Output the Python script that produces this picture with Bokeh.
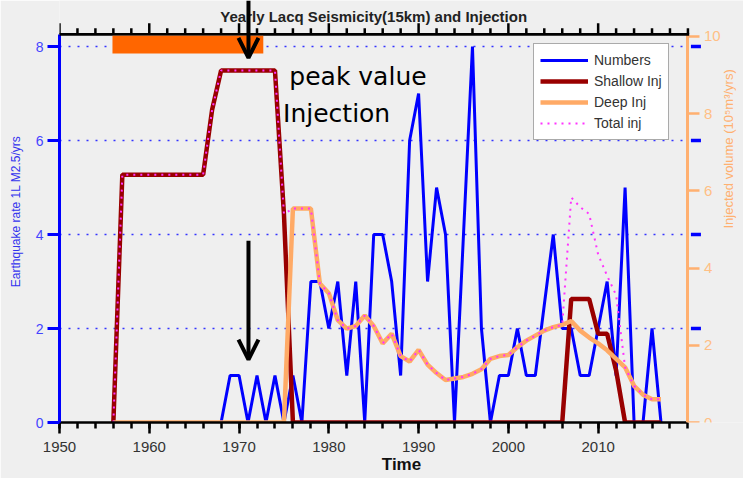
import math
from bokeh.plotting import figure
from bokeh.models import (Range1d, LinearAxis, FixedTicker, Legend, LegendItem,
                          Arrow, OpenHead, BoxAnnotation, Label)
from bokeh.embed import file_html
from bokeh.resources import INLINE

# ---------------- data ----------------
years_num = list(range(1968, 2018))
numbers = [0, 1, 1, 0, 1, 0, 1, 0, 1, 0,          # 1968-1977
           3, 3, 2, 3, 1, 3, 0, 4, 4, 3,          # 1978-1987
           1, 6, 7, 3, 5, 4, 0, 4, 8, 2,          # 1988-1997
           0, 1, 1, 2, 1, 1, 2.5, 4, 2, 2,        # 1998-2007
           1, 1, 2, 3, 1, 5, 0, 0, 2, 0]          # 2008-2017

years_inj = list(range(1956, 2018))
shallow = [0, 6.42, 6.42, 6.42, 6.42, 6.42, 6.42, 6.42, 6.42, 6.42,   # 1956-1965
           6.42, 8.1, 9.12, 9.12, 9.12, 9.12, 9.12, 9.12, 9.12, 5.4,  # 1966-1975
           0, 0, 0, 0, 0, 0, 0, 0, 0, 0,                              # 1976-1985
           0, 0, 0, 0, 0, 0, 0, 0, 0, 0,                              # 1986-1995
           0, 0, 0, 0, 0, 0, 0, 0, 0, 0,                              # 1996-2005
           0, 3.2, 3.2, 3.2, 2.3, 2.3, 1.35, 0, 0, 0,                 # 2006-2015
           0, 0]                                                      # 2016-2017
deep = [0, 0, 0, 0, 0, 0, 0, 0, 0, 0,                                 # 1956-1965
        0, 0, 0, 0, 0, 0, 0, 0, 0, 0,                                 # 1966-1975
        5.54, 5.54, 5.54, 3.6, 3.35, 2.65, 2.43, 2.5, 2.77, 2.5,      # 1976-1985
        2.05, 2.3, 1.72, 1.58, 1.88, 1.5, 1.28, 1.1, 1.14, 1.18,      # 1986-1995
        1.26, 1.38, 1.65, 1.72, 1.75, 1.95, 2.12, 2.25, 2.38, 2.47,   # 1996-2005
        2.53, 2.63, 2.38, 2.2, 2.05, 1.87, 1.65, 1.43, 0.95, 0.72,    # 2006-2015
        0.6, 0.6]                                                     # 2016-2017
total = [0, 6.42, 6.42, 6.42, 6.42, 6.42, 6.42, 6.42, 6.42, 6.42,    # 1956-1965
         6.42, 8.1, 9.12, 9.12, 9.12, 9.12, 9.12, 9.12, 9.12, 5.4,   # 1966-1975
         5.54, 5.54, 5.54, 3.6, 3.35, 2.65, 2.43, 2.5, 2.77, 2.5,    # 1976-1985
         2.05, 2.3, 1.72, 1.58, 1.88, 1.5, 1.28, 1.1, 1.14, 1.18,    # 1986-1995
         1.26, 1.38, 1.65, 1.72, 1.75, 1.95, 2.12, 2.25, 2.38, 2.47, # 1996-2005
         2.53, 5.83, 5.58, 5.4, 4.35, 3.8, 3.3, 1.43, 0.95, 0.72,    # 2006-2015
         0.6, 0.6]                                                   # 2016-2017

x_major = [1950, 1960, 1970, 1980, 1990, 2000, 2010]
x_minor = list(range(1950, 2021, 2))
left_ticks = [0, 2, 4, 6, 8]
grid_ticks = [2, 4, 6, 8]
right_ticks = [0, 2, 4, 6, 8, 10]

title_text = "Yearly Lacq Seismicity(15km) and Injection"
bg = "#efefef"
blue = "#0000ff"

# axis extents (data units) and frame extents
X0, X1 = 1950, 2020          # drawn x axis
XF = 2026.19                 # frame reaches the right edge of the page
YL_TOP = 8.26                # left axis top (= top axis line)
YR_TOP = 10.05               # right axis top
YL_F = 8.98                  # frame top, left scale
YR_F = 10.93                 # frame top, right scale
PX_Y = 47.0                  # pixels per unit, left scale
PX_X = 8.978                 # pixels per year

# ---------------- figure ----------------
p = figure(width=743, height=478, output_backend="svg", toolbar_location=None,
           x_range=Range1d(X0, XF), y_range=Range1d(0, YL_F),
           x_axis_location=None, y_axis_location=None, title_location=None,
           min_border_left=59, min_border_right=0, min_border_top=0, min_border_bottom=56,
           background_fill_color=bg, border_fill_color=bg, outline_line_color=None)
p.extra_y_ranges = {"inj": Range1d(0, YR_F)}
p.xgrid.visible = False
p.ygrid.visible = False

# dotted horizontal grid
p.segment(x0=[X0] * len(grid_ticks), x1=[X1] * len(grid_ticks), y0=grid_ticks, y1=grid_ticks,
          line_color="#3333ff", line_dash="2 7", line_width=1.5)

# top axis (line + outward ticks), drawn as annotations
hw_y = 1.3 / PX_Y
hw_x = 1.25 / PX_X
p.add_layout(BoxAnnotation(left=X0 - hw_x, right=X1 + hw_x, bottom=YL_TOP - hw_y,
                           top=YL_TOP + hw_y, fill_color="black", fill_alpha=1,
                           line_color=None))
for t in x_minor:
    tick_len = (11 if t in x_major else 6) / PX_Y
    p.add_layout(BoxAnnotation(left=t - hw_x, right=t + hw_x, bottom=YL_TOP,
                               top=YL_TOP + tick_len, fill_color="black", fill_alpha=1,
                               line_color=None))

xb = LinearAxis(axis_label="Time")
xb.ticker = FixedTicker(ticks=x_major, minor_ticks=x_minor)
xb.bounds = (X0, X1)
xb.axis_line_color = "black"
xb.axis_line_width = 2.5
xb.major_tick_line_color = "black"
xb.major_tick_line_width = 2.5
xb.minor_tick_line_color = "black"
xb.minor_tick_line_width = 2.5
xb.major_tick_in = 0
xb.major_tick_out = 11
xb.minor_tick_in = 0
xb.minor_tick_out = 6
xb.major_label_text_font = "Liberation Sans"
xb.major_label_text_color = "#333333"
xb.major_label_text_font_size = "15px"
xb.major_label_standoff = 8
xb.axis_label_text_font = "Liberation Sans"
xb.axis_label_text_font_size = "17px"
xb.axis_label_text_font_style = "bold"
xb.axis_label_text_color = "#111111"
xb.axis_label_standoff = 0
p.add_layout(xb, "below")

yl = LinearAxis(axis_label="Earthquake rate 1L M2.5/yrs")
yl.ticker = FixedTicker(ticks=left_ticks, minor_ticks=[])
yl.bounds = (0, YL_TOP)
yl.axis_line_color = blue
yl.axis_line_width = 3
yl.major_tick_line_color = blue
yl.major_tick_line_width = 3
yl.major_tick_in = 0
yl.major_tick_out = 12
yl.major_label_text_font = "Liberation Sans"
yl.major_label_text_font_size = "14px"
yl.major_label_text_color = "#4444ff"
yl.major_label_standoff = 4
yl.axis_label_text_font = "Liberation Sans"
yl.axis_label_text_font_size = "12px"
yl.axis_label_text_font_style = "normal"
yl.axis_label_text_color = "#3333ee"
yl.axis_label_standoff = 10
p.add_layout(yl, "left")

orange_ax = "#ffb070"
yr = LinearAxis(y_range_name="inj", axis_label="Injected volume (10\u2075m\u00b3/yrs)",
                fixed_location=X1)
yr.ticker = FixedTicker(ticks=right_ticks, minor_ticks=[])
yr.bounds = (0, YR_TOP)
yr.axis_line_color = orange_ax
yr.axis_line_width = 3
yr.major_tick_line_color = orange_ax
yr.major_tick_line_width = 2.5
yr.major_tick_in = 0
yr.major_tick_out = 12
yr.major_label_text_font = "Liberation Sans"
yr.major_label_text_font_size = "15px"
yr.major_label_text_color = "#ffbf85"
yr.major_label_standoff = 4
yr.axis_label_text_font = "Liberation Sans"
yr.axis_label_text_font_size = "13px"
yr.axis_label_text_font_style = "normal"
yr.axis_label_text_color = "#ffb070"
yr.axis_label_standoff = 5
try:
    yr.axis_label_orientation = math.pi / 2
except Exception:
    pass
p.add_layout(yr, "right")

# blue mirror ticks of the left axis, on the right side
p.segment(x0=[X1 + 3 / PX_X] * len(grid_ticks), x1=[X1 + 13 / PX_X] * len(grid_ticks),
          y0=grid_ticks, y1=grid_ticks, line_color=blue, line_width=3.5)

# ---------------- series ----------------
r_num = p.line(years_num, numbers, line_color=blue, line_width=3)
r_sh = p.line(years_inj, shallow, line_color="#990000", line_width=4.5, y_range_name="inj")
r_dp = p.line(years_inj, deep, line_color="#ffaa66", line_width=4.5, y_range_name="inj")
r_tot = p.line(years_inj, total, line_color="#ff33ff", line_width=2, line_dash="2 5",
               y_range_name="inj")

# ---------------- annotations ----------------
p.add_layout(Label(x=(X0 + X1) / 2, y=8.64, text=title_text, text_font="Liberation Sans",
                   text_font_size="15px", text_font_style="bold", text_color="#222222",
                   text_align="center", text_baseline="alphabetic"))
p.add_layout(BoxAnnotation(left=1955.9, right=1972.7, bottom=7.85, top=YL_TOP - hw_y,
                           fill_color="#ff6600", fill_alpha=1, line_color=None))
p.add_layout(Arrow(end=OpenHead(size=20, line_width=4, line_color="black"),
                   x_start=1971.05, y_start=YL_F, x_end=1971.05, y_end=7.76,
                   line_width=4, line_color="black"))
p.add_layout(Arrow(end=OpenHead(size=20, line_width=4, line_color="black"),
                   x_start=1971.05, y_start=3.87, x_end=1971.05, y_end=1.34,
                   line_width=4, line_color="black"))
p.add_layout(Label(x=1975.6, y=7.36, text="peak value", text_font="DejaVu Sans",
                   text_font_size="25px", text_color="black", text_baseline="alphabetic"))
p.add_layout(Label(x=1974.9, y=6.57, text="Injection", text_font="DejaVu Sans",
                   text_font_size="25px", text_color="black", text_baseline="alphabetic"))

legend = Legend(items=[LegendItem(label="Numbers", renderers=[r_num]),
                       LegendItem(label="Shallow Inj", renderers=[r_sh]),
                       LegendItem(label="Deep Inj", renderers=[r_dp]),
                       LegendItem(label="Total inj", renderers=[r_tot])],
                location=(474, 282))
legend.background_fill_color = "white"
legend.background_fill_alpha = 1
legend.border_line_color = "#555555"
legend.border_line_width = 1
legend.label_text_font = "Liberation Sans"
legend.label_text_font_size = "14px"
legend.label_text_color = "#333333"
legend.glyph_width = 48
legend.glyph_height = 20
legend.label_height = 20
legend.label_standoff = 6
legend.padding = 6
legend.spacing = 1
legend.margin = 0
p.add_layout(legend)

open("out.html", "w").write(file_html(p, INLINE))
